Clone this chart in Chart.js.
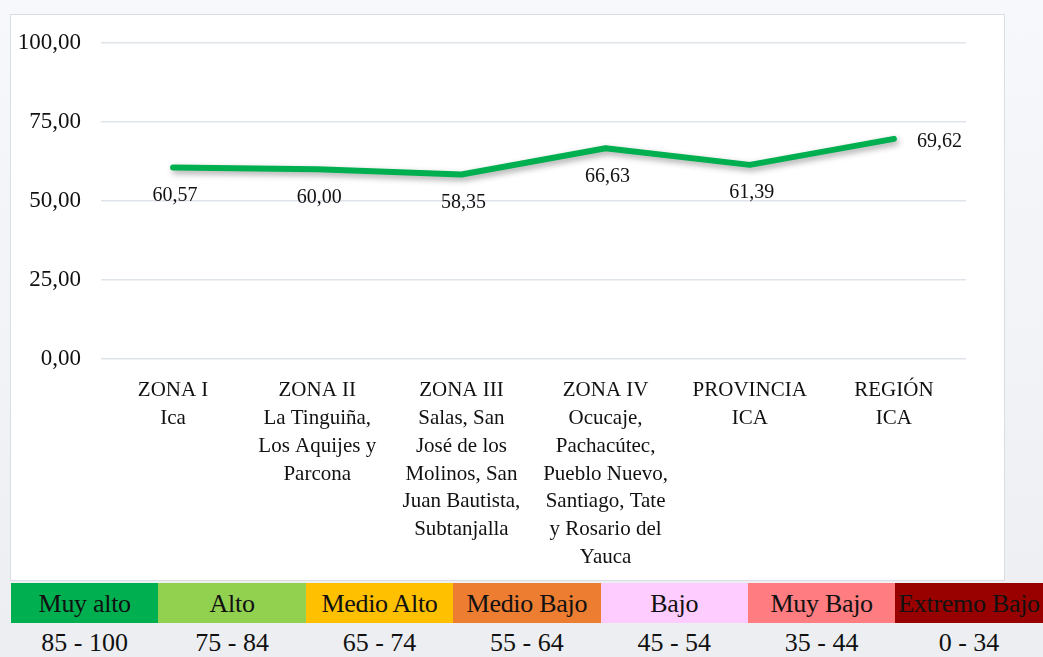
<!DOCTYPE html>
<html>
<head>
<meta charset="utf-8">
<script src="https://cdn.jsdelivr.net/npm/chart.js@4"></script>
<style>
  body { margin: 0; width: 1043px; height: 657px; overflow: hidden;
         background: linear-gradient(#f6f8fb, #eceef1); position: relative;
         font-family: "Liberation Serif", "Times New Roman", serif; }
  #box { position: absolute; left: 10px; top: 14px; width: 993px; height: 565px;
         background: #fff; border: 1px solid #d9dee6; overflow: hidden; }
  #chart { position: absolute; left: 0; top: -6px; }
  #levels { position: absolute; left: 11px; top: 583px; width: 1032px; display: flex; }
  #levels div { width: 147.4px; height: 40px; line-height: 42px; text-align: center; font-size: 26px;
                color: #111; white-space: nowrap; overflow: visible; letter-spacing: -0.3px; }
  #ranges { position: absolute; left: 11px; top: 626px; width: 1032px; display: flex; }
  #ranges div { width: 147.4px; text-align: center; font-size: 26px; color: #111; line-height: 34px; }
</style>
</head>
<body>
<div id="box"><canvas id="chart" width="993" height="571"></canvas></div>
<div id="levels"></div>
<div id="ranges"></div>
<script>
const zonas = [
    ['ZONA I', 'Ica'],
    ['ZONA II', 'La Tinguiña,', 'Los Aquijes y', 'Parcona'],
    ['ZONA III', 'Salas, San', 'José de los', 'Molinos, San', 'Juan Bautista,', 'Subtanjalla'],
    ['ZONA IV', 'Ocucaje,', 'Pachacútec,', 'Pueblo Nuevo,', 'Santiago, Tate', 'y Rosario del', 'Yauca'],
    ['PROVINCIA', 'ICA'],
    ['REGIÓN', 'ICA']
];
const valores = [60.57, 60.00, 58.35, 66.63, 61.39, 69.62];
const yTicks = [0, 25, 50, 75, 100];

const niveles = ['Muy alto', 'Alto', 'Medio Alto', 'Medio Bajo', 'Bajo', 'Muy Bajo', 'Extremo Bajo'];
const nivelColores = ['#00B050', '#92D050', '#FFC000', '#ED7D31', '#FFCCFF', '#FF7C80', '#990000'];
const rangos = ['85 - 100', '75 - 84', '65 - 74', '55 - 64', '45 - 54', '35 - 44', '0 - 34'];

const fuente = '"Liberation Serif", "Times New Roman", serif';

function fmt(v) {
    return v.toFixed(2).replace('.', ',');
}

// etiquetas de datos (abajo del punto, la ultima a la derecha)
const etiquetas = {
    id: 'etiquetas',
    afterDatasetsDraw(chart) {
        const ctx = chart.ctx;
        const meta = chart.getDatasetMeta(0);
        ctx.save();
        ctx.font = '20px ' + fuente;
        ctx.fillStyle = '#111';
        ctx.textBaseline = 'middle';
        meta.data.forEach((pt, i) => {
            if (i === meta.data.length - 1) {
                ctx.textAlign = 'left';
                ctx.fillText(fmt(valores[i]), pt.x + 23, pt.y + 3);
            } else {
                ctx.textAlign = 'center';
                ctx.fillText(fmt(valores[i]), pt.x + 2, pt.y + 28);
            }
        });
        ctx.restore();
    }
};

const sombra = {
    id: 'sombra',
    beforeDatasetDraw(chart) {
        const ctx = chart.ctx;
        ctx.save();
        ctx.shadowColor = 'rgba(0,0,0,0.35)';
        ctx.shadowBlur = 6;
        ctx.shadowOffsetX = 2;
        ctx.shadowOffsetY = 3;
    },
    afterDatasetDraw(chart) {
        chart.ctx.restore();
    }
};

function renderGrafica() {
    const canvas = document.getElementById('chart');
    new Chart(canvas, {
        type: 'line',
        data: {
            labels: zonas,
            datasets: [{
                data: valores,
                borderColor: '#00B050',
                borderWidth: 6,
                borderCapStyle: 'round',
                borderJoinStyle: 'round',
                pointRadius: 0,
                tension: 0
            }]
        },
        options: {
            responsive: false,
            animation: false,
            layout: { padding: { top: 1, right: 38, left: 0, bottom: 0 } },
            plugins: { legend: { display: false }, tooltip: { enabled: false } },
            scales: {
                x: {
                    offset: true,
                    grid: { display: false },
                    border: { display: false },
                    afterFit: (scale) => { scale.height = 221; },
                    ticks: {
                        color: '#111',
                        font: { family: fuente, size: 21, lineHeight: 1.32 },
                        maxRotation: 0,
                        autoSkip: false,
                        padding: 10
                    }
                },
                y: {
                    min: 0,
                    max: 100,
                    afterBuildTicks: (scale) => { scale.ticks = yTicks.map(v => ({ value: v })); },
                    afterFit: (scale) => { scale.width = 90; },
                    grid: { color: '#dfe3ea', lineWidth: 1.5, drawTicks: false },
                    border: { display: false },
                    ticks: {
                        color: '#111',
                        font: { family: fuente, size: 23 },
                        padding: 20,
                        callback: (v) => fmt(v)
                    }
                }
            }
        },
        plugins: [sombra, etiquetas]
    });
}

function renderNiveles() {
    const lv = document.getElementById('levels');
    const rg = document.getElementById('ranges');
    niveles.forEach((n, i) => {
        const d = document.createElement('div');
        d.textContent = n;
        d.style.background = nivelColores[i];
        lv.appendChild(d);
        const r = document.createElement('div');
        r.textContent = rangos[i];
        rg.appendChild(r);
    });
}

renderGrafica();
renderNiveles();
</script>
</body>
</html>
